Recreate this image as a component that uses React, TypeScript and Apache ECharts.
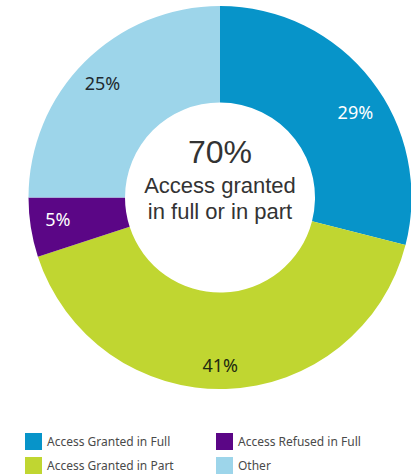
import React, { useEffect, useRef } from "react";
import * as echarts from "echarts";

const categories = [
  "Access Granted in Full",
  "Access Granted in Part",
  "Access Refused in Full",
  "Other",
];
const values = [29, 41, 5, 25];
const colors = ["#0794c9", "#c0d631", "#5b0686", "#9dd5ea"];
const labelColors = ["#ffffff", "#1e2a10", "#ffffff", "#1f2a30"];
const centerTexts = ["70%", "Access granted", "in full or in part"];
const legendCol1 = [categories[0], categories[1]];
const legendCol2 = [categories[2], categories[3]];

// label nudges (style only)
const labelNudge: [number, number][] = [
  [4, 16],
  [-5, 1],
  [2, -5],
  [0, 3],
];

export default function App() {
  const ref = useRef<HTMLDivElement>(null);
  useEffect(() => {
    document.body.style.margin = "0";
    const chart = echarts.init(ref.current!, null, { renderer: "svg" });
    const data = categories.map((name, i) => ({
      name,
      value: values[i],
      itemStyle: { color: colors[i] },
    }));
    const labelData = categories.map((name, i) => ({
      name,
      value: values[i],
      itemStyle: { color: "rgba(0,0,0,0)" },
      label: { color: labelColors[i], offset: labelNudge[i] },
    }));
    const legendBase = {
      orient: "vertical" as const,
      top: 433,
      itemWidth: 17,
      itemHeight: 17,
      itemGap: 7,
      icon: "rect",
      textStyle: { fontFamily: "Noto Sans", fontSize: 12, color: "#4a4a4a", padding: [0, 0, 0, 0] },
      itemStyle: { borderWidth: 0 },
    };
    chart.setOption({
      animation: false,
      legend: [
        { ...legendBase, left: 25, data: legendCol1, padding: 0 },
        { ...legendBase, left: 216, data: legendCol2, padding: 0 },
      ],
      series: [
        {
          type: "pie",
          center: [220, 197.5],
          radius: [95, 191.5],
          startAngle: 90,
          clockwise: true,
          label: { show: false },
          labelLine: { show: false },
          itemStyle: { borderWidth: 0 },
          emphasis: { disabled: true },
          data,
        },
        {
          type: "pie",
          center: [220, 197.5],
          radius: [135, 191.5],
          startAngle: 90,
          clockwise: true,
          silent: true,
          label: {
            show: true,
            position: "inside",
            formatter: "{c}%",
            fontFamily: "Noto Sans",
            fontSize: 18,
          },
          labelLine: { show: false },
          emphasis: { disabled: true },
          data: labelData,
        },
      ],
      graphic: [
        {
          type: "text",
          x: 220,
          y: 152,
          style: {
            text: centerTexts[0],
            font: "32px 'Liberation Sans', Arial, sans-serif",
            fill: "#333333",
            textAlign: "center",
            textVerticalAlign: "middle",
          },
        },
        {
          type: "text",
          x: 220,
          y: 185,
          style: {
            text: centerTexts[1],
            font: "22px 'Liberation Sans', Arial, sans-serif",
            fill: "#333333",
            textAlign: "center",
            textVerticalAlign: "middle",
          },
        },
        {
          type: "text",
          x: 220,
          y: 211,
          style: {
            text: centerTexts[2],
            font: "22px 'Liberation Sans', Arial, sans-serif",
            fill: "#333333",
            textAlign: "center",
            textVerticalAlign: "middle",
          },
        },
      ],
    });
    return () => chart.dispose();
  }, []);
  return <div ref={ref} style={{ width: 411, height: 476 }} />;
}
